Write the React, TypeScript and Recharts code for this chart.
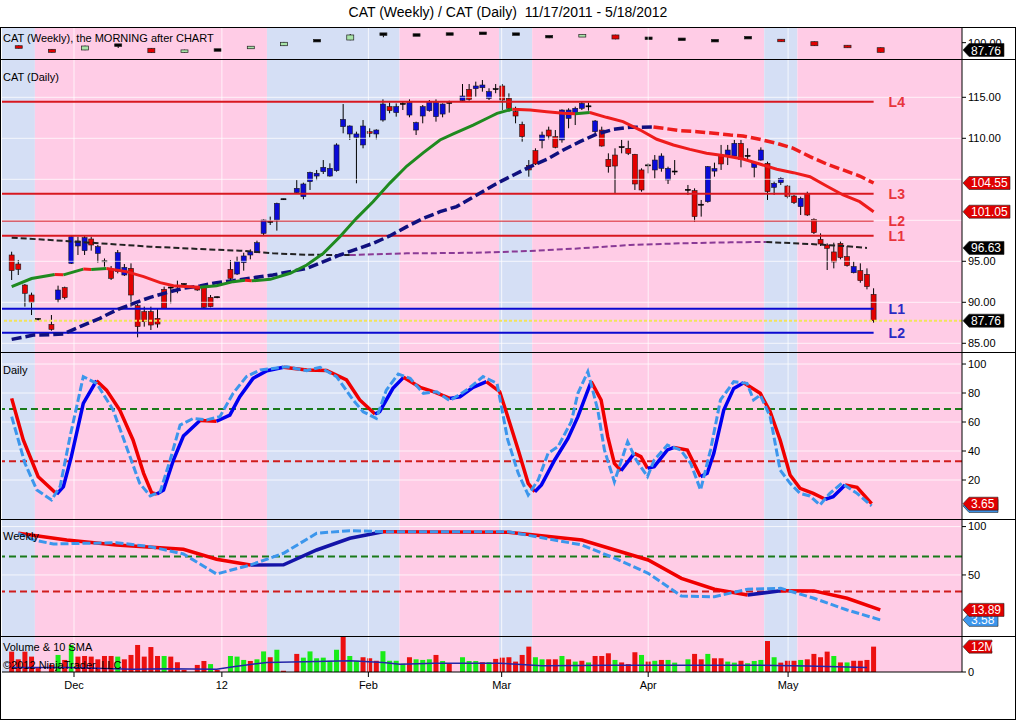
import React from "react";
import { ComposedChart, Bar, Line, XAxis, YAxis, ReferenceArea, ReferenceLine } from "recharts";

const W = 1016;
// x domain in bar slots: slot 0 is the first daily bar, empty slots are holidays
const XMIN = -1.46;
const XMAX = 143.33;
const PINK = "#ffcce6";
const LAVENDER = "#d5dff5";
const FONT = '"Liberation Sans", Arial, sans-serif';

const monthTicks = [9.4, 31.7, 53.8, 73.9, 96.0, 117.1];
const monthLabels = ["Dec", "12", "Feb", "Mar", "Apr", "May"];

// background regime bands: start slot of each band, and whether it is the blue one
const bandStarts = [XMIN, 3.5, 38.5, 58.5, 73.5, 78.5, 113.5, 118.5];
const bandIsBlue = [true, false, true, false, true, false, true, false];

// daily bars: slot, open, high, low, close
const daily = [
  [0, 95.77, 96.17, 92.72, 93.86], [1, 94.67, 95.16, 93.33, 94.02], [2, 92.11, 92.23, 89.47, 91.1],
  [3, 90.89, 91.18, 88.45, 90.0], [4, 87.95, 88.05, 87.8, 87.9], [6, 87.31, 88.45, 86.54, 86.7],
  [7, 90.36, 92.03, 89.96, 91.5], [8, 91.79, 91.91, 90.36, 90.57], [9, 94.75, 98.21, 94.67, 98.0],
  [10, 96.87, 98.0, 95.77, 97.48], [11, 96.3, 98.09, 95.77, 97.88], [12, 97.72, 98.0, 96.3, 96.99],
  [13, 95.97, 96.99, 94.84, 96.79], [14, 95.0, 95.35, 94.35, 94.92], [15, 94.06, 94.43, 92.72, 92.92],
  [16, 93.74, 96.38, 93.53, 96.05], [17, 93.33, 94.67, 93.21, 94.26], [18, 94.14, 94.75, 89.47, 90.89],
  [19, 89.59, 89.79, 85.73, 87.03], [20, 88.86, 89.47, 87.03, 87.64], [21, 88.86, 89.47, 86.62, 87.23],
  [22, 88.05, 89.27, 86.91, 87.35], [23, 91.58, 91.91, 89.2, 89.27], [24, 91.8, 91.91, 89.87, 91.72],
  [25, 91.9, 92.64, 91.1, 91.95], [26, 92.2, 92.3, 92.1, 92.22], [28, 91.91, 92.0, 91.4, 91.5],
  [29, 91.91, 91.99, 89.27, 89.39], [30, 90.61, 90.89, 89.39, 89.47], [31, 90.62, 90.7, 90.5, 90.6],
  [33, 94.02, 95.16, 92.72, 92.92], [34, 93.45, 95.57, 93.33, 94.96], [35, 94.84, 96.05, 93.86, 95.65],
  [36, 95.77, 96.46, 95.24, 96.17], [37, 96.05, 97.52, 96.0, 97.27], [38, 98.41, 100.12, 98.09, 100.04],
  [39, 99.7, 100.45, 99.43, 99.82], [40, 100.04, 102.15, 98.74, 102.07], [41, 102.55, 102.62, 102.5, 102.57],
  [43, 103.37, 104.9, 103.29, 103.9], [44, 102.88, 104.59, 102.56, 104.43], [45, 104.71, 105.93, 103.7, 105.85],
  [46, 105.4, 106.14, 104.9, 105.73], [47, 105.93, 107.35, 105.65, 106.46], [48, 105.4, 106.95, 105.32, 106.34],
  [49, 106.05, 109.39, 105.93, 109.19], [50, 111.42, 114.18, 110.61, 112.31], [51, 110.53, 111.58, 109.8, 111.5],
  [52, 110.12, 110.81, 104.51, 110.53], [53, 109.19, 112.23, 108.78, 111.5], [54, 110.81, 111.22, 110.12, 110.61],
  [55, 110.53, 111.1, 109.88, 111.01], [56, 112.23, 114.75, 112.03, 114.18], [57, 113.86, 114.35, 113.05, 113.37],
  [58, 113.13, 114.26, 112.64, 113.86], [59, 114.15, 114.47, 113.45, 114.2], [60, 112.84, 114.75, 112.56, 114.35],
  [61, 111.01, 112.03, 110.4, 111.91], [62, 112.72, 114.06, 111.83, 113.86], [63, 113.37, 114.67, 113.25, 114.47],
  [64, 112.64, 114.75, 112.03, 114.35], [65, 112.96, 114.26, 112.56, 114.18], [66, 114.35, 114.59, 113.13, 114.2],
  [68, 114.59, 116.62, 114.5, 115.16], [69, 115.97, 116.62, 114.59, 114.75], [70, 116.05, 116.91, 115.08, 116.38],
  [71, 116.17, 117.11, 115.69, 116.5], [72, 114.87, 116.1, 114.67, 115.69], [73, 115.97, 116.62, 115.5, 116.0],
  [74, 116.38, 116.62, 113.45, 114.67], [75, 114.87, 115.48, 113.25, 113.66], [76, 113.25, 113.86, 111.83, 112.72],
  [77, 111.7, 112.03, 109.59, 110.2], [78, 106.7, 107.35, 105.32, 106.14], [79, 108.49, 108.78, 106.74, 106.87],
  [80, 109.71, 110.81, 108.78, 110.4], [81, 111.01, 111.42, 109.88, 110.28], [82, 110.2, 111.01, 108.78, 108.9],
  [83, 109.8, 113.53, 109.47, 113.45], [84, 112.44, 113.66, 111.22, 113.45], [85, 112.96, 113.86, 111.62, 113.66],
  [86, 113.66, 114.47, 113.45, 114.26], [87, 113.86, 114.35, 113.37, 113.9], [88, 110.81, 112.23, 110.61, 112.11],
  [89, 111.01, 111.42, 108.98, 109.06], [90, 107.44, 108.17, 105.81, 106.54], [91, 107.96, 108.78, 103.29, 106.62],
  [92, 108.9, 109.8, 108.17, 108.92], [93, 108.78, 109.71, 107.96, 108.17], [94, 108.05, 108.1, 103.7, 104.43],
  [95, 106.14, 106.34, 103.49, 103.7], [96, 106.7, 106.95, 105.73, 106.6], [97, 106.14, 107.96, 105.12, 107.35],
  [98, 106.34, 108.17, 105.93, 107.84], [99, 104.92, 106.54, 104.43, 106.34], [100, 105.93, 107.35, 105.53, 105.95],
  [102, 103.7, 104.31, 103.09, 103.72], [103, 103.62, 103.9, 99.84, 100.45], [104, 101.87, 102.48, 100.45, 101.9],
  [105, 102.27, 106.62, 102.15, 106.54], [106, 106.0, 107.03, 105.32, 106.3], [107, 107.96, 109.19, 106.14, 106.87],
  [108, 107.96, 109.19, 106.74, 108.57], [109, 107.84, 109.8, 107.76, 109.39], [110, 109.39, 109.8, 106.46, 107.44],
  [111, 107.84, 108.78, 107.35, 107.86], [112, 106.46, 107.15, 105.24, 107.03], [113, 107.35, 108.9, 107.27, 108.57],
  [114, 106.95, 107.15, 102.48, 103.49], [115, 104.02, 104.71, 103.09, 104.51], [116, 104.59, 105.24, 104.31, 105.12],
  [117, 104.18, 104.31, 102.68, 102.88], [118, 102.96, 103.09, 101.99, 102.15], [119, 101.67, 102.88, 100.65, 102.68],
  [120, 103.29, 103.49, 100.53, 100.65], [121, 100.12, 100.24, 98.33, 98.49], [122, 97.68, 98.41, 96.87, 97.11],
  [123, 96.99, 97.19, 93.94, 96.58], [124, 96.14, 97.27, 94.14, 94.92], [125, 97.19, 97.4, 95.24, 95.45],
  [126, 95.57, 96.87, 94.35, 94.47], [127, 93.61, 94.96, 93.53, 94.35], [128, 93.86, 94.75, 92.39, 92.64],
  [129, 93.41, 94.14, 91.58, 91.91], [130, 90.97, 91.71, 87.52, 87.76],
];

// weekly bars ("the morning after"): slot, open, high, low, close
const weekly = [
  [1, 94.9, 95.4, 90.2, 90.6], [6, 88.9, 89.4, 83.4, 83.9], [11, 87.8, 95.0, 87.4, 94.4],
  [16, 96.1, 96.5, 91.1, 95.7], [21, 90.6, 91.0, 82.8, 83.3], [26, 83.9, 88.3, 83.4, 87.8],
  [31, 87.9, 88.2, 87.2, 87.6], [36, 90.6, 93.8, 90.2, 93.3], [41, 94.9, 101.2, 94.4, 100.6],
  [46, 103.4, 103.9, 102.6, 103.2], [51, 104.4, 114.4, 104.0, 112.8], [56, 114.4, 114.8, 109.0, 114.0],
  [61, 112.9, 113.5, 112.0, 112.6], [66, 114.5, 115.0, 113.8, 114.3], [71, 115.7, 116.6, 115.0, 115.5],
  [76, 114.1, 115.0, 113.2, 114.4], [81, 110.2, 110.6, 107.5, 109.9], [86, 110.0, 113.2, 109.6, 112.8],
  [91, 112.8, 113.2, 105.6, 106.1], [96, 107.4, 108.8, 105.8, 107.2], [101, 105.7, 106.3, 105.0, 105.5],
  [106, 103.4, 104.8, 101.6, 103.2], [111, 108.4, 108.9, 107.7, 108.2], [116, 105.6, 106.0, 101.2, 101.6],
  [121, 101.6, 102.0, 94.5, 94.9], [126, 94.9, 95.3, 91.9, 92.3], [131, 91.6, 92.0, 83.5, 83.9],
];

// volume: slot, millions, up-volume flag
const volume = [
  [0, 9.8, 0], [1, 6.1, 0], [2, 9.8, 0], [3, 7.4, 0], [4, 2.0, 0], [6, 3.4, 0], [7, 8.2, 1], [8, 5.8, 0],
  [9, 13, 1], [10, 7.4, 0], [11, 7.7, 0], [12, 7.4, 0], [13, 6.1, 0], [14, 7.7, 0], [15, 7.7, 0], [16, 7.4, 1],
  [17, 6.1, 0], [18, 8.2, 0], [19, 13, 0], [20, 7.4, 0], [21, 12, 0], [22, 7.7, 0], [23, 7.7, 1], [24, 7.4, 0],
  [25, 4.7, 0], [26, 1.0, 0], [28, 3.4, 0], [29, 5.3, 0], [30, 3.8, 1], [31, 1.0, 0], [33, 7.7, 1], [34, 7.4, 1],
  [35, 5.8, 1], [36, 5.3, 0], [37, 6.1, 1], [38, 9.9, 1], [39, 7.1, 0], [40, 10.7, 1], [41, 0.6, 0], [43, 8.7, 0],
  [44, 6.9, 1], [45, 9.9, 1], [46, 6.6, 1], [47, 6.9, 1], [48, 5.4, 1], [49, 10.7, 1], [50, 17.3, 0], [51, 7.7, 1],
  [52, 5.4, 1], [53, 7.1, 0], [54, 6.6, 0], [55, 5.4, 0], [56, 10.0, 1], [57, 5.4, 1], [58, 5.4, 1], [59, 4.0, 1],
  [60, 7.1, 0], [61, 6.1, 1], [62, 5.8, 1], [63, 6.1, 1], [64, 8.2, 0], [65, 5.3, 1], [66, 4.0, 0], [68, 7.1, 1],
  [69, 5.3, 1], [70, 5.3, 1], [71, 4.7, 0], [72, 4.7, 1], [73, 6.3, 0], [74, 6.9, 0], [75, 7.1, 0], [76, 5.0, 0],
  [77, 8.2, 0], [78, 12.2, 0], [79, 7.1, 1], [80, 6.1, 1], [81, 6.1, 0], [82, 6.1, 0], [83, 7.7, 1], [84, 6.1, 0],
  [85, 5.0, 1], [86, 5.4, 0], [87, 4.6, 1], [88, 7.7, 0], [89, 7.7, 0], [90, 9.0, 0], [91, 5.8, 1], [92, 4.6, 0],
  [93, 3.8, 0], [94, 9.5, 0], [95, 8.2, 1], [96, 5.0, 0], [97, 5.4, 1], [98, 5.8, 0], [99, 5.8, 1], [100, 4.5, 1],
  [102, 6.1, 1], [103, 8.7, 0], [104, 6.1, 0], [105, 8.7, 1], [106, 6.6, 0], [107, 6.6, 0], [108, 5.0, 1],
  [109, 4.5, 1], [110, 5.4, 0], [111, 4.2, 1], [112, 5.3, 1], [113, 5.8, 1], [114, 14.9, 0], [115, 7.1, 1],
  [116, 4.5, 0], [117, 5.4, 0], [118, 5.4, 0], [119, 5.8, 1], [120, 6.1, 0], [121, 8.7, 0], [122, 7.1, 0],
  [123, 9.8, 0], [124, 7.7, 1], [125, 4.6, 0], [126, 4.6, 1], [127, 5.4, 0], [128, 5.4, 0], [129, 5.8, 0],
  [130, 12.2, 0],
];

// moving averages: slot, value
const sma20 = [
  [0, 91.91], [3, 92.9], [6.5, 93.4], [7.8, 93.35], [10.8, 94.05], [12, 94.0], [14.3, 94.12], [17.3, 93.74],
  [19.9, 93.13], [22.4, 92.4], [24.4, 92.03], [26.9, 91.9], [28.4, 91.83], [30.9, 92.03], [33.4, 92.52],
  [35.2, 92.7], [36.2, 92.62], [39, 92.8], [42, 93.54], [44.5, 94.55], [47, 95.97], [49.5, 98.0], [52, 100.24],
  [54.5, 102.27], [57, 104.51], [59.6, 106.62], [62.1, 108.25], [64.6, 109.8], [66.6, 110.53], [69.6, 111.62],
  [72.1, 112.6], [73.2, 113.05], [75.5, 113.55], [78.2, 113.45], [80.7, 113.25], [83.2, 113.05], [85, 113.0],
  [87.2, 113.15], [89.7, 112.56], [92.2, 112.03], [94.8, 111.01], [97.3, 109.88], [99.8, 109.19],
  [102.3, 108.65], [104.8, 108.17], [107.8, 107.84], [110.3, 107.48], [112.8, 106.87], [115.4, 106.22],
  [117.9, 105.81], [120.4, 105.32], [122.9, 104.18], [125.4, 103.09], [127.9, 102.27], [130, 101.05],
];
const sma50 = [
  [0, 85.48], [3.3, 86.0], [5.8, 86.05], [7.8, 86.14], [10.3, 87.03], [13.3, 88.05], [15.8, 89.06],
  [18.4, 89.88], [20.9, 90.61], [23.4, 91.18], [25.9, 91.71], [28.4, 91.99], [30.9, 92.4], [33.4, 92.64],
  [36, 92.95], [39.4, 93.33], [44.5, 94.14], [49.5, 95.77], [54.5, 97.19], [57, 98.09], [59.6, 99.23],
  [62.1, 100.24], [64.6, 101.05], [67.1, 101.67], [70.6, 103.29], [73.2, 104.51], [75.7, 105.53],
  [78.2, 106.54], [80.7, 107.44], [83.2, 108.57], [85.7, 109.59], [88.3, 110.53], [90.8, 111.1],
  [93.3, 111.34], [96.8, 111.38], [98.3, 111.22], [100.8, 110.93], [103.4, 110.81], [105.9, 110.61],
  [108.4, 110.4], [110.3, 110.28], [112.8, 109.88], [115.4, 109.39], [117.9, 108.78], [120.4, 107.76],
  [122.9, 106.87], [125.4, 106.14], [127.9, 105.4], [130, 104.55],
];
const sma200 = [
  [0, 97.88], [5.8, 97.6], [13.3, 97.19], [20.9, 96.79], [28.4, 96.5], [34.4, 96.3], [39.4, 95.97],
  [44.5, 95.8], [49.5, 95.77], [51, 95.76], [54.5, 95.85], [59.6, 95.97], [64.6, 96.0], [69.6, 96.05],
  [72.1, 96.09], [78.2, 96.26], [85.7, 96.58], [93.3, 96.99], [100.8, 97.19], [105.3, 97.27], [108.4, 97.31],
  [113.8, 97.36], [120.4, 97.11], [125.4, 96.87], [129, 96.63],
];
const volSma = [
  [0, 2.2], [8.3, 2.2], [18.3, 1.3], [23.4, 1.6], [30.9, 1.3], [33.4, 2.5], [38.5, 4.6], [46, 5.0], [51, 5.4],
  [56, 4.6], [58.6, 3.7], [63.6, 4.2], [73.6, 4.2], [80, 3.0], [90, 3.2], [100, 3.3], [113, 3.2], [120, 2.9],
  [129, 2.2],
];

// stochastics: slot, value
const stochDailyD = [
  [0, 76.3], [1.75, 47.6], [4.0, 22.3], [6.8, 10.3], [7.8, 15.4], [9.0, 36.1], [10.8, 72.9], [12.8, 88.5],
  [14.3, 82], [16.3, 68.3], [18.3, 47.6], [19.9, 24.6], [21.1, 11.3], [21.9, 10.3], [22.9, 13.1], [24.4, 33.8],
  [25.9, 50.3], [28.4, 61.0], [30.9, 60.5], [32.9, 64.8], [34.4, 77.5], [36.4, 90.1], [38.5, 95.4], [41.0, 97.8],
  [44.5, 95.9], [47.5, 95.5], [50.5, 89], [52.5, 75.2], [54.8, 65.5], [55.5, 67.1], [57.5, 83.2], [59.1, 90.8],
  [61.6, 83.9], [63.6, 80.9], [66.1, 76.3], [67.6, 77.4], [69.6, 83.9], [71.6, 87.8], [73.6, 80.9], [74.8, 64],
  [76.4, 40.7], [77.9, 17.7], [78.9, 11.9], [79.9, 16.6], [81.9, 33.8], [83.9, 48.7], [85.4, 63.7], [87.4, 87.8],
  [88.9, 75.2], [89.9, 49.9], [90.9, 31.5], [91.9, 26.4], [93.9, 38.4], [94.9, 36.1], [95.9, 28.0], [96.9, 29.2],
  [98.9, 40.7], [99.9, 42.5], [101.9, 40.7], [103.9, 22.3], [104.9, 24.6], [105.9, 38.4], [107.4, 68.3],
  [108.9, 83.2], [110.4, 87.1], [112.9, 79.8], [114.4, 67.1], [115.9, 47.6], [117.4, 23.4], [118.9, 14.3],
  [120.9, 10.8], [122.7, 6.7], [123.9, 8.5], [125.7, 16.6], [127.5, 15.0], [129.7, 3.65],
];
const stochDailyK = [
  [0, 63.7], [2.0, 31.5], [3.8, 13.1], [6.0, 6.2], [7.3, 15.4], [8.8, 49.9], [10.8, 91.3], [12.8, 86.7],
  [15.3, 68.3], [17.3, 43], [19.3, 17.7], [20.9, 9.0], [22.4, 11.9], [23.9, 33.8], [25.4, 57.9], [27.4, 62.5],
  [29.4, 61.4], [31.4, 63.7], [33.4, 79.8], [35.4, 91.3], [37.5, 95.9], [41.5, 98.1], [44.5, 95.4], [46.5, 97.7],
  [49.0, 91.3], [51.5, 75.2], [53.0, 67.1], [55.0, 62.5], [56.5, 82], [58.3, 93.1], [60.1, 90.1], [62.1, 79.8],
  [64.1, 80.9], [66.1, 74.7], [68.6, 82], [71.1, 91.3], [73.2, 86.7], [74.8, 48], [76.4, 24.6], [77.9, 9.7],
  [79.4, 20], [80.9, 38.4], [82.4, 43], [84.4, 60.2], [85.4, 79.8], [86.9, 94.7], [88.4, 68.3], [89.4, 40.7],
  [90.9, 18.8], [92.9, 46.4], [94.2, 33.8], [95.9, 22.3], [96.9, 33.8], [98.9, 44.1], [100.9, 40.7],
  [102.4, 31.5], [103.9, 13.1], [105.4, 40.7], [106.9, 75.2], [108.9, 87.8], [110.9, 86.7], [111.9, 75.2],
  [112.9, 78.6], [114.4, 63.7], [115.9, 26.9], [117.4, 17.7], [118.9, 10.8], [120.4, 9], [121.9, 2.8],
  [123.4, 10.8], [125.2, 17.7], [127.5, 10.8], [129.7, 2.1],
];
const stochWeeklyD = [
  [1, 93.1], [8.3, 86.1], [15.8, 81], [25.9, 76.5], [30.9, 66.2], [36, 60.3], [41, 60.5], [46, 75.8],
  [51, 87.9], [56, 94.7], [66, 94.5], [74.9, 94.2], [86, 86.1], [96, 65.5], [101, 46.5], [106, 35.2],
  [111, 29.3], [116, 33.7], [121, 33.5], [126, 25.9], [131, 13.89],
];
const stochWeeklyK = [
  [1, 93.1], [3.3, 86.1], [6.3, 82], [15.8, 83.4], [20.9, 79.2], [25.9, 71.7], [30.9, 51], [36, 60.3],
  [41, 72.4], [46, 93.1], [51, 95.8], [56, 94.7], [74.9, 94.7], [80.4, 87.9], [86, 81], [91, 67.2], [96, 51.7],
  [101, 28.2], [106, 27.5], [111, 35.2], [116, 36.2], [121, 25.9], [126, 13.8], [131, 3.58],
];

const resistance = [114.46, 103.25, 99.9, 98.12];
const resistanceNames = ["L4", "L3", "L2", "L1"];
const support = [89.22, 86.29];
const supportNames = ["L1", "L2"];
const levelEndSlot = 130;
const lastClose = 87.76;
const stochUpper = 69;
const stochLower = 33;

const dailyRows = daily.map(([x, o, h, l, c]) => ({ x, o, h, l, c }));
const weeklyRows = weekly.map(([x, o, h, l, c]) => ({ x, o, h, l, c }));
const volumeRows = volume.map(([x, m, up]) => ({ x, m, up }));
const toPts = (a: number[][]) => a.map(([x, v]) => ({ x, v }));
const last = (a: number[][]) => a[a.length - 1][1];

// split a line into runs coloured by slope (rising / falling), as the platform does
function slopeRuns(pts: number[][], up: string, down: string) {
  const runs: { color: string; data: { x: number; v: number }[] }[] = [];
  for (let i = 0; i < pts.length - 1; i++) {
    const color = pts[i + 1][1] >= pts[i][1] ? up : down;
    const b = { x: pts[i + 1][0], v: pts[i + 1][1] };
    const cur = runs[runs.length - 1];
    if (cur && cur.color === color) cur.data.push(b);
    else runs.push({ color, data: [{ x: pts[i][0], v: pts[i][1] }, b] });
  }
  return runs;
}

function runLines(pts: number[][], up: string, down: string, width: number, dash?: string, id = "") {
  return slopeRuns(pts, up, down).map((r, i) => (
    <Line key={id + i} data={r.data} dataKey="v" type="linear" stroke={r.color} strokeWidth={width}
      strokeDasharray={dash} dot={false} activeDot={false} isAnimationActive={false} />
  ));
}

function bands() {
  return bandStarts.map((s, i) => (
    <ReferenceArea key={"b" + i} x1={s} x2={i + 1 < bandStarts.length ? bandStarts[i + 1] : XMAX}
      fill={bandIsBlue[i] ? LAVENDER : PINK} fillOpacity={1} stroke="none" ifOverflow="hidden" />
  ));
}

function grid(levels: number[]) {
  return [
    ...monthTicks.map((t) => <ReferenceLine key={"gx" + t} x={t} stroke="#ffffff" strokeOpacity={0.75} />),
    ...levels.map((v) => <ReferenceLine key={"gy" + v} y={v} stroke="#ffffff" strokeOpacity={0.75} />),
  ];
}

function Tag(props: any) {
  const { viewBox, text, color } = props;
  if (!viewBox) return null;
  const x0 = viewBox.x + viewBox.width;
  const cy = viewBox.y;
  const w = text.length * 6 + 5;
  const h = 13;
  const d = `M${x0 + 1},${cy} L${x0 + 7},${cy - h / 2} L${x0 + 7 + w},${cy - h / 2} L${x0 + 7 + w},${cy + h / 2} L${x0 + 7},${cy + h / 2} Z`;
  return (
    <g>
      <path d={d} fill={color} stroke="#222" strokeWidth={0.6} />
      <text x={x0 + 9} y={cy + 4.5} fontSize={12} fill="#fff" fontFamily={FONT}>{text}</text>
    </g>
  );
}

function tag(value: number, text: string, color: string) {
  return <ReferenceLine key={"t" + text + color} y={value} stroke="none" label={<Tag text={text} color={color} />} />;
}

function Candle(props: any) {
  const { x, y, width, height, payload } = props;
  if (!payload || !isFinite(x) || !isFinite(y)) return null;
  const { o, h, l, c } = payload;
  const top = Math.min(y, y + height);
  const k = Math.abs(height) / (h - l);
  const py = (v: number) => top + (h - v) * k;
  const cx = x + width / 2;
  const bt = py(Math.max(o, c));
  const bb = py(Math.min(o, c));
  const doji = Math.abs(c - o) < 0.15;
  const fill = doji ? "#000" : c > o ? "#0a0ad8" : "#e40000";
  return (
    <g>
      <line x1={cx} x2={cx} y1={top} y2={top + Math.abs(height)} stroke="#000" strokeWidth={1} />
      <rect x={cx - 2.5} y={doji ? bt - 0.5 : bt} width={5} height={Math.max(bb - bt, 1)} fill={fill}
        stroke={doji ? "#000" : "#1a1a1a"} strokeWidth={0.6} />
    </g>
  );
}

function WeekCandle(props: any) {
  const { x, y, width, height, payload } = props;
  if (!payload || !isFinite(x) || !isFinite(y)) return null;
  const { o, h, l, c } = payload;
  const top = Math.min(y, y + height);
  const k = Math.abs(height) / (h - l);
  const py = (v: number) => top + (h - v) * k;
  const cx = x + width / 2;
  let bt = py(Math.max(o, c));
  let bb = py(Math.min(o, c));
  const flat = Math.abs(c - o) < 0.5;
  if (bb - bt < 2.5) { const m = (bt + bb) / 2; bt = m - 1.25; bb = m + 1.25; }
  const fill = flat ? "#000" : c > o ? "#a8e4a8" : "#e40000";
  return (
    <g>
      <line x1={cx} x2={cx} y1={top} y2={top + Math.abs(height)} stroke="#000" strokeWidth={1} />
      <rect x={cx - 3.5} y={bt} width={7} height={bb - bt} fill={fill} stroke="#222" strokeWidth={0.7} />
    </g>
  );
}

function VolBar(props: any) {
  const { x, y, width, height, payload } = props;
  if (!payload || !isFinite(x) || !isFinite(y)) return null;
  const cx = x + width / 2;
  return <rect x={cx - 2.5} y={Math.min(y, y + height)} width={5} height={Math.abs(height)}
    fill={payload.up ? "#18ec18" : "#ec1010"} />;
}

const hiddenX = () => <XAxis type="number" dataKey="x" domain={[XMIN, XMAX]} allowDataOverflow hide />;
const rightAxis = (domain: number[], ticks: number[], fmt: (v: number) => string) => (
  <YAxis orientation="right" width={54} type="number" domain={domain} allowDataOverflow ticks={ticks} interval={0}
    tickFormatter={fmt} tick={{ fontSize: 11, fill: "#000" }} tickSize={4} tickMargin={2} stroke="#000" />
);
const margin = { top: 0, right: 0, bottom: 0, left: 2 };

const txt = (top: number): React.CSSProperties => ({
  position: "absolute", left: 3, top, fontSize: 11, lineHeight: "13px", color: "#000", whiteSpace: "pre", zIndex: 5,
});
const hline = (top: number): React.CSSProperties => ({
  position: "absolute", left: 0, top, width: W, height: 1, background: "#000", zIndex: 6,
});

export default function App() {
  return (
    <div style={{ position: "absolute", left: 0, top: 0, width: W, height: 720, background: "#fff", fontFamily: FONT, overflow: "hidden" }}>
      <div style={{ position: "absolute", left: 0, top: 4, width: W, textAlign: "center", fontSize: 14, lineHeight: "17px", whiteSpace: "pre" }}>
        {"CAT (Weekly) / CAT (Daily)  11/17/2011 - 5/18/2012"}
      </div>

      {/* weekly candles */}
      <div style={{ position: "absolute", left: 0, top: 28 }}>
        <ComposedChart width={W} height={31} data={weeklyRows} margin={margin}>
          {hiddenX()}
          {rightAxis([72.76, 124.43], [100], (v) => v.toFixed(2))}
          {bands()}
          {grid([])}
          <Bar dataKey={(d: any) => [d.l, d.h]} barSize={6} isAnimationActive={false} shape={(p: any) => <WeekCandle {...p} />} />
          {tag(lastClose, lastClose.toFixed(2), "#000")}
        </ComposedChart>
      </div>

      {/* daily price */}
      <div style={{ position: "absolute", left: 0, top: 60 }}>
        <ComposedChart width={W} height={292} data={dailyRows} margin={margin}>
          {hiddenX()}
          {rightAxis([83.94, 119.55], [85, 90, 95, 110, 115], (v) => v.toFixed(2))}
          {bands()}
          {grid([85, 90, 95, 100, 105, 110, 115])}
          {resistance.map((v, i) => (
            <ReferenceLine key={"r" + i} segment={[{ x: XMIN, y: v }, { x: levelEndSlot, y: v }]}
              stroke="#d81820" strokeWidth={resistanceNames[i] === "L2" ? 1 : 2}
              label={{ value: resistanceNames[i], position: "right", offset: 15, fill: "#e8343c", fontSize: 14, fontWeight: "bold" }} />
          ))}
          {support.map((v, i) => (
            <ReferenceLine key={"s" + i} segment={[{ x: XMIN, y: v }, { x: levelEndSlot, y: v }]}
              stroke="#0a0ad0" strokeWidth={2}
              label={{ value: supportNames[i], position: "right", offset: 15, fill: "#2a2ac4", fontSize: 14, fontWeight: "bold" }} />
          ))}
          <ReferenceLine y={lastClose} stroke="#f2e45a" strokeWidth={2} strokeDasharray="3 2" />
          {runLines(sma200, "#8a3a96", "#222222", 2, "6 3", "s200")}
          {runLines(sma50, "#10107e", "#ee1c1c", 3.5, "10 4", "s50")}
          {runLines(sma20, "#1f8a1f", "#ee1c1c", 3, undefined, "s20")}
          <Bar dataKey={(d: any) => [d.l, d.h]} barSize={5} isAnimationActive={false} shape={(p: any) => <Candle {...p} />} />
          {tag(last(sma50), last(sma50).toFixed(2), "#e00000")}
          {tag(last(sma20), last(sma20).toFixed(2), "#e00000")}
          {tag(last(sma200), last(sma200).toFixed(2), "#000")}
          {tag(lastClose, lastClose.toFixed(2), "#000")}
        </ComposedChart>
      </div>

      {/* daily stochastics */}
      <div style={{ position: "absolute", left: 0, top: 353 }}>
        <ComposedChart width={W} height={166} data={dailyRows} margin={margin}>
          {hiddenX()}
          {rightAxis([-6.9, 107.6], [20, 40, 60, 80, 100], (v) => String(v))}
          {bands()}
          {grid([20, 40, 60, 80, 100])}
          <ReferenceLine y={stochUpper} stroke="#1a7a1a" strokeWidth={2} strokeDasharray="7 4" />
          <ReferenceLine y={stochLower} stroke="#d01c1c" strokeWidth={2} strokeDasharray="7 4" />
          {runLines(stochDailyD, "#0000f0", "#f00000", 3.5, undefined, "dd")}
          <Line data={toPts(stochDailyK)} dataKey="v" type="linear" stroke="#3c96ec" strokeWidth={3}
            strokeDasharray="8 3" dot={false} activeDot={false} isAnimationActive={false} />
          {tag(last(stochDailyK), last(stochDailyK).toFixed(2), "#3c96ec")}
          {tag(last(stochDailyD), last(stochDailyD).toFixed(2), "#e00000")}
        </ComposedChart>
      </div>

      {/* weekly stochastics */}
      <div style={{ position: "absolute", left: 0, top: 520 }}>
        <ComposedChart width={W} height={116} data={dailyRows} margin={margin}>
          {hiddenX()}
          {rightAxis([-13.1, 106.8], [50, 100], (v) => String(v))}
          {bands()}
          {grid([50, 100])}
          <ReferenceLine y={stochUpper} stroke="#1a7a1a" strokeWidth={2} strokeDasharray="7 4" />
          <ReferenceLine y={stochLower} stroke="#d01c1c" strokeWidth={2} strokeDasharray="7 4" />
          {runLines(stochWeeklyD, "#1414a8", "#f00000", 3.5, undefined, "wd")}
          <Line data={toPts(stochWeeklyK)} dataKey="v" type="linear" stroke="#3c96ec" strokeWidth={3}
            strokeDasharray="8 3" dot={false} activeDot={false} isAnimationActive={false} />
          {tag(last(stochWeeklyK), last(stochWeeklyK).toFixed(2), "#3c96ec")}
          {tag(last(stochWeeklyD), last(stochWeeklyD).toFixed(2), "#e00000")}
        </ComposedChart>
      </div>

      {/* volume */}
      <div style={{ position: "absolute", left: 0, top: 637 }}>
        <ComposedChart width={W} height={65} data={volumeRows} margin={margin}>
          <XAxis type="number" dataKey="x" domain={[XMIN, XMAX]} allowDataOverflow ticks={monthTicks} interval={0}
            tickFormatter={(v: number) => monthLabels[monthTicks.indexOf(v)] ?? ""} tick={{ fontSize: 11, fill: "#000" }}
            tickSize={5} tickMargin={4} stroke="#000" height={30} />
          {rightAxis([0, 16.83], [0], (v) => String(v))}
          {bands()}
          {grid([])}
          <Bar dataKey="m" barSize={5} isAnimationActive={false} shape={(p: any) => <VolBar {...p} />} />
          <Line data={toPts(volSma)} dataKey="v" type="linear" stroke="#2424a8" strokeWidth={1.5}
            dot={false} activeDot={false} isAnimationActive={false} />
          {tag(volumeRows[volumeRows.length - 1].m, "12M", "#e00000")}
        </ComposedChart>
      </div>

      <div style={txt(32)}>CAT (Weekly), the MORNING after CHART</div>
      <div style={txt(71)}>CAT (Daily)</div>
      <div style={txt(364)}>Daily</div>
      <div style={txt(530)}>Weekly</div>
      <div style={txt(641)}>Volume &amp; 10 SMA</div>
      <div style={txt(659)}>©2012 NinjaTrader, LLC</div>

      <div style={hline(59)} />
      <div style={hline(352)} />
      <div style={hline(519)} />
      <div style={hline(636)} />
      <div style={{ position: "absolute", left: 0, top: 27, width: W, height: 693, border: "1px solid #000", boxSizing: "border-box", zIndex: 7, pointerEvents: "none" }} />
    </div>
  );
}
